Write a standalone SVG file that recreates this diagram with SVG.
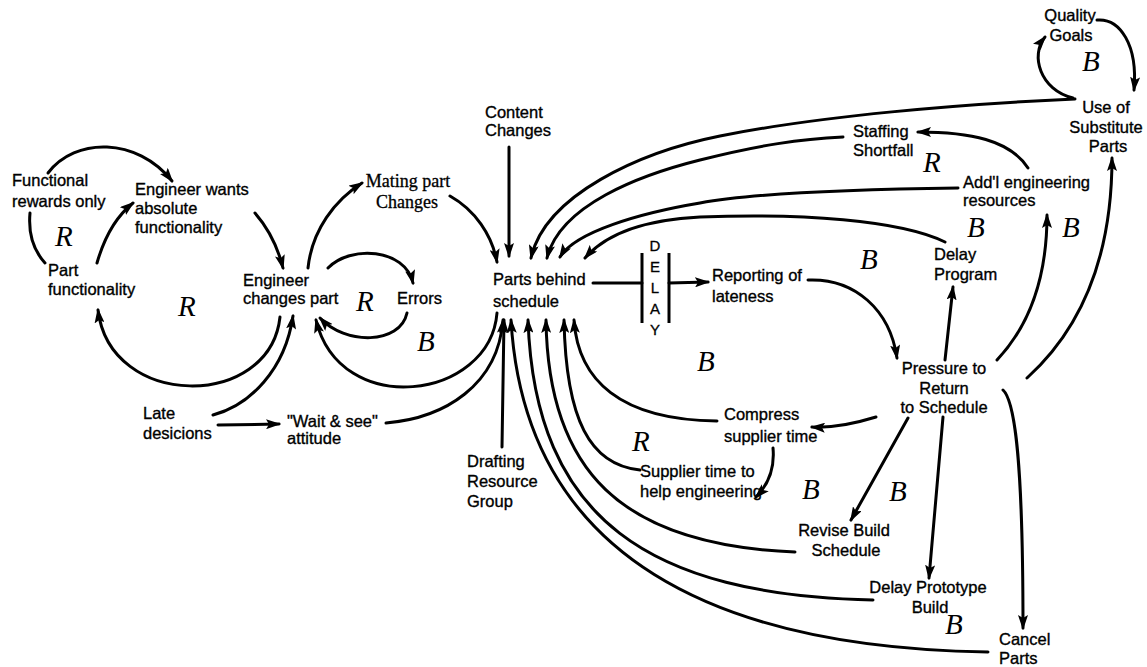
<svg xmlns="http://www.w3.org/2000/svg" width="1147" height="667" viewBox="0 0 1147 667">
<defs>
<style>
.t{font-family:"Liberation Sans",Arial,Helvetica,sans-serif;font-size:16.5px;fill:#000;stroke:#000;stroke-width:0.35px}
.m{text-anchor:middle}
.s{font-family:"Liberation Serif","Times New Roman",serif;font-size:18px;fill:#000;text-anchor:middle;stroke:#000;stroke-width:0.3px}
.l{font-family:"Liberation Serif","Times New Roman",serif;font-style:italic;font-size:29px;fill:#000}
.d{font-family:"Liberation Sans",Arial,sans-serif;font-size:15px;text-anchor:middle;fill:#000;stroke:#000;stroke-width:0.3px}
.c path{fill:none;stroke:#000;stroke-width:3;stroke-linecap:round}
.c .a{marker-end:url(#ah)}
.bar{stroke:#000;stroke-width:3}
</style>
<marker id="ah" markerUnits="userSpaceOnUse" markerWidth="15" markerHeight="10" refX="13" refY="5" orient="auto" viewBox="0 0 15 10"><path d="M0,0 L15,5 L0,10 L3,5 Z" fill="#000"/></marker>
</defs>
<rect width="1147" height="667" fill="#fff"/>

<g id="connectors" class="c">
  <path class="a" d="M48,173 C75,137 137,137 172,181"/>
  <path d="M30,213 C28,235 35,252 45,263"/>
  <path class="a" d="M97,263 C105,235 118,215 133,203"/>
  <path class="a" d="M255,213 C268,228 278,248 283,268"/>
  <path class="a" d="M280,317 C270,410 110,410 98,310"/>
  <path class="a" d="M213,415 C250,405 285,370 293,316"/>
  <path class="a" d="M218,425 L279,424"/>
  <path class="a" d="M386,423 C445,418 498,385 503,320"/>
  <path class="a" d="M308,268 C312,230 335,200 362,183"/>
  <path class="a" d="M328,268 C350,245 405,248 413,283"/>
  <path class="a" d="M407,313 C400,345 345,345 320,318"/>
  <path class="a" d="M497,313 C490,400 340,420 316,320"/>
  <path class="a" d="M450,196 C475,210 492,235 497,262"/>
  <path class="a" d="M509,147 L509,256"/>
  <path class="a" d="M502,447 L504,320"/>
  <path class="a" d="M988,652 C720,648 525,560 511,320"/>
  <path class="a" d="M873,600 C650,595 535,520 528,320"/>
  <path class="a" d="M795,552 C620,545 548,470 546,320"/>
  <path class="a" d="M640,470 C590,465 566,420 564,320"/>
  <path class="a" d="M717,421 C620,420 578,380 574,320"/>
  <path class="a" d="M1075,99 C960,104 820,116 720,136 C640,152 545,195 531,258"/>
  <path class="a" d="M843,137 C800,139 760,145 700,160 C640,175 560,205 547,258"/>
  <path class="a" d="M958,188 C880,189 760,192 700,203 C640,213 575,232 560,257"/>
  <path class="a" d="M945,242 C900,220 800,213 700,217 C640,220 605,235 585,258"/>
  <path d="M593,283 L642,283"/>
  <path class="a" d="M669,283 L708,282"/>
  <path class="a" d="M808,280 C855,278 890,310 897,358"/>
  <path class="a" d="M945,360 L953,287"/>
  <path class="a" d="M997,360 C1030,325 1047,275 1047,215"/>
  <path class="a" d="M1027,378 C1080,330 1112,260 1112,158"/>
  <path class="a" d="M876,417 C850,425 830,428 812,427"/>
  <path class="a" d="M908,418 L851,520"/>
  <path class="a" d="M943,417 L929,578"/>
  <path class="a" d="M1003,390 C1016,402 1023,470 1023,628"/>
  <path class="a" d="M773,448 C775,470 768,485 756,497"/>
  <path class="a" d="M1097,20 C1120,18 1138,45 1134,90"/>
  <path class="a" d="M1073,98 C1040,90 1030,55 1045,37"/>
  <path class="a" d="M1028,168 C1010,140 970,132 918,132"/>
</g>

<g id="delay">
  <line class="bar" x1="642" y1="253" x2="642" y2="323"/>
  <line class="bar" x1="669" y1="253" x2="669" y2="323"/>
  <text class="d" x="655" y="251">D</text>
  <text class="d" x="655" y="272">E</text>
  <text class="d" x="655" y="293">L</text>
  <text class="d" x="655" y="314">A</text>
  <text class="d" x="655" y="335">Y</text>
</g>

<g id="n-quality-goals"><text class="t m" x="1070" y="21">Quality</text><text class="t m" x="1071" y="41">Goals</text></g>
<g id="n-use-substitute"><text class="t m" x="1106" y="113">Use of</text><text class="t m" x="1106" y="133">Substitute</text><text class="t m" x="1108" y="152">Parts</text></g>
<g id="n-staffing"><text class="t" x="853" y="137">Staffing</text><text class="t" x="853" y="156">Shortfall</text></g>
<g id="n-addl"><text class="t" x="963" y="188">Add'l engineering</text><text class="t" x="963" y="206">resources</text></g>
<g id="n-delay-program"><text class="t" x="934" y="260">Delay</text><text class="t" x="934" y="280">Program</text></g>
<g id="n-reporting"><text class="t" x="712" y="281">Reporting of</text><text class="t" x="712" y="302">lateness</text></g>
<g id="n-pressure"><text class="t m" x="944" y="374">Pressure to</text><text class="t m" x="944" y="394">Return</text><text class="t m" x="944" y="413">to Schedule</text></g>
<g id="n-compress"><text class="t" x="724" y="420">Compress</text><text class="t" x="724" y="442">supplier time</text></g>
<g id="n-supplier-help"><text class="t" x="640" y="477">Supplier time to</text><text class="t" x="640" y="497">help engineering</text></g>
<g id="n-revise"><text class="t m" x="844" y="536">Revise Build</text><text class="t m" x="846" y="556">Schedule</text></g>
<g id="n-delay-prototype"><text class="t m" x="928" y="593">Delay Prototype</text><text class="t m" x="930" y="613">Build</text></g>
<g id="n-cancel"><text class="t" x="999" y="645">Cancel</text><text class="t" x="999" y="664">Parts</text></g>
<g id="n-parts-behind"><text class="t" x="493" y="285">Parts behind</text><text class="t" x="493" y="307">schedule</text></g>
<g id="n-content"><text class="t" x="485" y="118">Content</text><text class="t" x="485" y="136">Changes</text></g>
<g id="n-mating"><text class="s" x="408" y="187">Mating part</text><text class="s" x="407" y="208">Changes</text></g>
<g id="n-engineer-changes"><text class="t" x="243" y="286">Engineer</text><text class="t" x="243" y="304">changes part</text></g>
<g id="n-errors"><text class="t" x="397" y="304">Errors</text></g>
<g id="n-engineer-wants"><text class="t" x="135" y="195">Engineer wants</text><text class="t" x="135" y="214">absolute</text><text class="t" x="135" y="233">functionality</text></g>
<g id="n-functional-rewards"><text class="t" x="12" y="186">Functional</text><text class="t" x="12" y="207">rewards only</text></g>
<g id="n-part-functionality"><text class="t" x="48" y="276">Part</text><text class="t" x="48" y="295">functionality</text></g>
<g id="n-late"><text class="t" x="143" y="419">Late</text><text class="t" x="143" y="439">desicions</text></g>
<g id="n-wait-see"><text class="t" x="287" y="427">"Wait &amp; see"</text><text class="t" x="287" y="444">attitude</text></g>
<g id="n-drafting"><text class="t" x="467" y="467">Drafting</text><text class="t" x="467" y="487">Resource</text><text class="t" x="467" y="507">Group</text></g>

<g id="loop-labels">
  <text class="l" x="55" y="246">R</text>
  <text class="l" x="178" y="316">R</text>
  <text class="l" x="356" y="311">R</text>
  <text class="l" x="417" y="351">B</text>
  <text class="l" x="697" y="371">B</text>
  <text class="l" x="632" y="451">R</text>
  <text class="l" x="860" y="269">B</text>
  <text class="l" x="967" y="237">B</text>
  <text class="l" x="1062" y="237">B</text>
  <text class="l" x="923" y="172">R</text>
  <text class="l" x="1082" y="71">B</text>
  <text class="l" x="802" y="499">B</text>
  <text class="l" x="889" y="501">B</text>
  <text class="l" x="945" y="634">B</text>
</g>
</svg>
